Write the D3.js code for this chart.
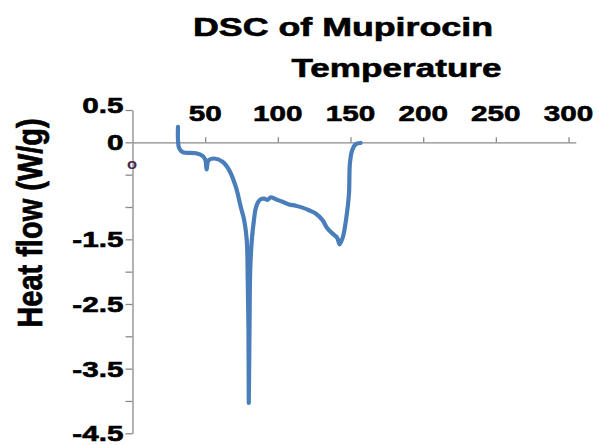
<!doctype html>
<html>
    <head>
        <title>DSC of Mupirocin</title>
        <style>
            body {
                margin: 0;
                overflow: hidden;
                background: #fff;
            }
            text {
                font-family: "Liberation Sans", Arial, sans-serif;
                font-weight: bold;
                fill: #000;
                stroke: #000;
                stroke-width: 0.6px;
            }
        </style>
    </head>
    <body>
        <script src="https://cdn.jsdelivr.net/npm/d3@7"></script>
        <script>

            // DSC trace
            const tempC = [31.3, 32.1, 34.5, 43.6, 48.2, 50.1, 51.0, 52.3, 56.2, 62.0,
                66.5, 71.1, 74.5, 76.8, 78.6, 79.3, 79.8, 80.0, 80.5, 81.0,
                82.1, 83.4, 84.8, 86.5, 88.3, 90.5, 92.9, 95.1, 98.6, 103.2,
                107.7, 112.3, 116.9, 121.4, 126.0, 130.6, 134.1, 138.6, 140.9, 142.5,
                144.8, 147.1, 148.9, 149.6, 151.2, 153.5, 156.9];
            const heatFlow = [0.24, -0.09, -0.15, -0.17, -0.21, -0.27, -0.42, -0.28, -0.25, -0.30,
                -0.43, -0.69, -1.00, -1.20, -1.51, -2.13, -2.89, -4.03, -2.89, -1.97,
                -1.51, -1.23, -1.02, -0.92, -0.88, -0.87, -0.89, -0.85, -0.88, -0.92,
                -0.96, -0.98, -1.01, -1.05, -1.10, -1.20, -1.33, -1.43, -1.48, -1.58,
                -1.46, -1.17, -0.81, -0.32, -0.12, -0.03, -0.01];

            const xTicks = [50, 100, 150, 200, 250, 300];
            const yTicks = [0.5, 0, -0.5, -1, -1.5, -2, -2.5, -3, -3.5, -4, -4.5];
            const yTickLabels = ['0.5', '0', '', '', '-1.5', '', '-2.5', '', '-3.5', '', '-4.5'];

            const width = 599;
            const height = 445;
            const stretch = 1.32; // text in the picture is wide

            const svg = d3.select('body')
                .append('svg')
                .attr('width', width)
                .attr('height', height);

            const x = d3.scaleLinear().domain([0, 305]).range([132.5, 575.8]);
            const y = d3.scaleLinear().domain([-4.5, 0.5]).range([433.3, 110]);

            // y axis
            const yAxis = svg.append('g')
                .attr('transform', `translate(${x(0)},0)`)
                .call(d3.axisLeft(y)
                    .tickValues(yTicks)
                    .tickSize(7)
                    .tickSizeOuter(0)
                    .tickFormat((d, i) => yTickLabels[i]));
            yAxis.select('.domain').attr('stroke', '#8a8a8a').attr('stroke-width', 1.3);
            yAxis.selectAll('.tick line').attr('stroke', '#8a8a8a').attr('stroke-width', 1.3);
            yAxis.selectAll('.tick text')
                .attr('font-size', 22.5)
                .attr('font-family', null)
                .attr('fill', '#000')
                .attr('x', -9 / stretch)
                .attr('dy', d => d === 0.5 ? '0.1em' : d === -4.5 ? '0.3em' : '0.34em')
                .attr('transform', `scale(${stretch},1)`);

            // x axis crosses at 0, ticks point up
            const xAxis = svg.append('g')
                .attr('transform', `translate(0,${y(0)})`)
                .call(d3.axisTop(x)
                    .tickValues(xTicks)
                    .tickSize(5)
                    .tickSizeOuter(0)
                    .tickFormat(''));
            xAxis.select('.domain').attr('stroke', '#8a8a8a').attr('stroke-width', 1.3);
            xAxis.selectAll('.tick line').attr('stroke', '#8a8a8a').attr('stroke-width', 1.3);

            svg.append('g')
                .selectAll('text')
                .data(xTicks)
                .join('text')
                .attr('transform', d => `translate(${x(d)},121) scale(${stretch},1)`)
                .attr('text-anchor', 'middle')
                .attr('font-size', 22.5)
                .text(d => d);

            // stray little "o" under the origin
            svg.append('text')
                .attr('transform', `translate(${x(0) - 0.5},169) scale(1.1,1)`)
                .attr('text-anchor', 'middle')
                .attr('font-size', 15)
                .style('fill', '#4b2a4a')
                .style('stroke', 'none')
                .text('o');

            // trace
            const points = tempC.map((t, i) => [t, heatFlow[i]]);
            const line = d3.line()
                .x(d => x(d[0]))
                .y(d => y(d[1]))
                .curve(d3.curveCatmullRom.alpha(0.5));

            svg.append('path')
                .datum(points)
                .attr('d', line)
                .attr('fill', 'none')
                .attr('stroke', '#4a7ebb')
                .attr('stroke-width', 4.2)
                .attr('stroke-linejoin', 'round')
                .attr('stroke-linecap', 'round');

            // titles
            svg.append('text')
                .attr('x', 193)
                .attr('y', 35.7)
                .attr('font-size', 25)
                .attr('textLength', 300)
                .attr('lengthAdjust', 'spacingAndGlyphs')
                .text('DSC of Mupirocin');

            svg.append('text')
                .attr('x', 291.5)
                .attr('y', 76.7)
                .attr('font-size', 26.5)
                .attr('textLength', 210)
                .attr('lengthAdjust', 'spacingAndGlyphs')
                .text('Temperature');

            svg.append('text')
                .attr('transform', 'translate(41.5,223) rotate(-90) scale(1,1.24)')
                .attr('text-anchor', 'middle')
                .attr('font-size', 29)
                .text('Heat flow (W/g)');

        </script>
    </body>
</html>
